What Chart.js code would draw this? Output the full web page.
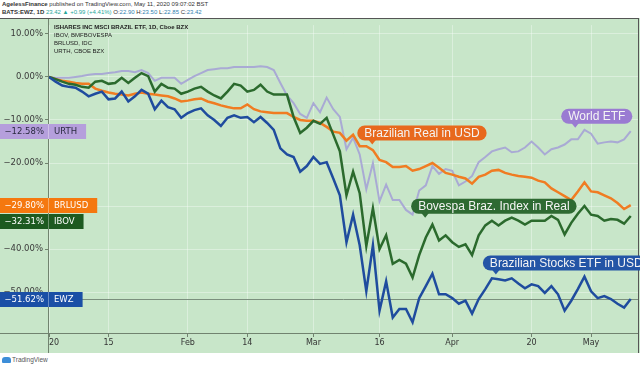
<!DOCTYPE html>
<html>
<head>
<meta charset="utf-8">
<script src="https://cdn.jsdelivr.net/npm/chart.js@4.4.1/dist/chart.umd.min.js"></script>
<style>
    body { margin: 0; background: #fff; }
    #wrap { position: relative; width: 640px; height: 367px; overflow: hidden; background: #fff; font-family: 'Liberation Sans', Arial, sans-serif; }
    #head1 { position: absolute; left: 2px; top: 1px; font-size: 6px; color: #333; white-space: nowrap; }
    #head2 { position: absolute; left: 2px; top: 9px; font-size: 6px; color: #333; white-space: nowrap; }
    #head2 .up { color: #26a69a; }
    #head2 .v { color: #2f7fb0; }
    #box { position: absolute; left: 0; top: 18px; width: 640px; height: 335px; }
    #legend { position: absolute; left: 54px; top: 23px; font-size: 6px; line-height: 8px; color: #222; white-space: nowrap; }
    #legend b { font-weight: bold; }
    #foot { position: absolute; left: 2px; top: 356px; font-size: 6.5px; color: #555; white-space: nowrap; }
    #foot span.logo { display: inline-block; width: 9px; height: 6px; background: #3d8ed8; border-radius: 3px 3px 1px 1px; vertical-align: -1px; margin-right: 1px; }
</style>
</head>
<body>
<div id="wrap">
    <div id="head1"><b>AgelessFinance</b> published on TradingView.com, May 11, 2020 09:07:02 BST</div>
    <div id="head2"><b>BATS:EWZ, 1D</b> <span class="up">23.42 ▲ +0.99 (+4.41%)</span> O:<span class="v">22.90</span> H:<span class="v">23.50</span> L:<span class="v">22.85</span> C:<span class="v">23.42</span></div>
    <div id="box"><canvas id="chart"></canvas></div>
    <div id="legend">
        <b>ISHARES INC MSCI BRAZIL ETF, 1D, Cboe BZX</b><br>
        IBOV, BMFBOVESPA<br>
        BRLUSD, IDC<br>
        URTH, CBOE BZX
    </div>
    <div id="foot"><span class="logo"></span>TradingView</div>
</div>
<script>
// daily % change since 2 Jan 2020 (trading days up to 8 May)
const ewz = [
    0, -1.1, -2.0, -2.3, -2.5, -3.4, -4.5, -3.9, -3.4, -5.2,
    -5.0, -3.4, -5.7, -4.5, -3.0, -3.9, -7.5, -5.5, -7.0, -7.5,
    -9.5, -8.4, -7.7, -7.3, -8.9, -10.0, -11.4, -9.5, -8.9, -9.5,
    -9.3, -10.5, -9.3, -10.7, -12.3, -16.6, -18.0, -18.6, -22.0, -20.7,
    -18.6, -20.2, -19.8, -23.6, -27.5, -38.4, -32.0, -39.1, -49.8, -39.1,
    -54.3, -47.5, -55.9, -53.9, -53.9, -57.0, -51.4, -48.6, -45.7, -50.5,
    -50.5, -51.4, -52.7, -52.0, -55.0, -51.6, -49.3, -46.8, -47.0, -47.3,
    -46.8, -48.0, -49.1, -48.2, -48.6, -50.2, -48.6, -50.5, -54.3, -52.0,
    -49.3, -46.4, -49.8, -51.4, -50.9, -51.6, -52.7, -53.6, -51.62
];
const ibov = [
    0, -0.5, -1.1, -1.6, -1.8, -2.3, -2.5, -1.1, -0.9, -1.6,
    -1.4, -0.2, -1.4, -0.2, 0.9, 0.2, -3.4, -1.6, -2.5, -2.7,
    -3.9, -3.4, -2.7, -2.3, -3.4, -4.3, -5.0, -3.4, -1.6, -2.0,
    -3.4, -3.0, -1.8, -3.4, -4.1, -4.1, -4.1, -9.3, -13.0, -11.8,
    -10.2, -10.9, -9.5, -13.4, -17.3, -27.5, -22.0, -27.0, -39.3, -30.5,
    -40.0, -36.8, -43.4, -42.5, -43.4, -46.6, -41.4, -37.3, -34.3, -38.0,
    -36.8, -38.4, -39.5, -38.9, -41.4, -36.8, -34.5, -33.4, -34.5, -33.4,
    -32.7, -33.4, -34.3, -33.4, -33.4, -33.4, -32.3, -33.2, -36.6, -33.9,
    -31.8, -30.0, -32.0, -32.3, -33.4, -33.0, -33.2, -34.1, -32.31
];
const brlusd = [
    0, -0.5, -0.9, -1.1, -1.4, -1.6, -1.6, -2.7, -3.2, -3.6,
    -3.9, -4.1, -4.3, -3.9, -3.6, -3.9, -4.1, -4.3, -4.5, -5.0,
    -5.7, -5.5, -5.2, -5.0, -5.7, -6.1, -6.6, -7.0, -7.3, -7.3,
    -6.4, -7.5, -8.0, -8.2, -8.4, -8.4, -8.4, -9.3, -10.0, -10.2,
    -10.2, -10.7, -11.6, -12.7, -13.0, -14.8, -13.4, -16.1, -16.1, -17.0,
    -19.3, -19.8, -20.9, -20.9, -20.7, -21.8, -21.4, -20.7, -20.0, -21.1,
    -22.3, -22.7, -23.2, -23.6, -24.8, -23.2, -22.7, -21.8, -21.6, -22.3,
    -22.7, -23.0, -23.2, -23.4, -24.1, -24.5, -25.9, -26.8, -27.7, -28.6,
    -26.6, -24.5, -26.6, -26.8, -27.5, -28.2, -29.3, -30.7, -29.80
];
const urth = [
    0, -0.2, -0.2, -0.2, 0, 0.2, 0.5, 0.7, 0.7, 0.9,
    1.1, 1.4, 1.4, 1.1, 1.6, 0.9, -0.9, -0.2, -0.2, -0.2,
    -1.6, -0.7, 0.2, 0.9, 1.6, 1.8, 2.0, 2.0, 2.3, 2.3,
    2.3, 2.3, 2.5, 2.3, 1.6, -1.4, -4.3, -6.1, -8.6, -9.5,
    -6.1, -8.2, -4.8, -7.5, -9.3, -16.8, -14.1, -18.0, -26.1, -20.0,
    -28.9, -25.0, -28.6, -28.6, -30.9, -32.0, -26.4, -25.2, -20.7, -22.5,
    -21.4, -21.8, -25.2, -24.3, -23.0, -19.8, -18.6, -17.3, -16.8, -16.4,
    -17.5, -17.3, -16.4, -15.0, -16.4, -18.0, -16.8, -16.4, -15.7, -14.5,
    -14.5, -12.3, -13.2, -15.5, -15.2, -15.0, -15.2, -14.5, -12.58
];

// time axis labels (bar index -> text)
const tickPos = [0, 9, 21, 30, 40, 50, 61, 73, 82];
const tickText = ['2020', '15', 'Feb', '14', 'Mar', '16', 'Apr', '20', 'May'];

const series = [
    { name: 'EWZ', data: ewz, color: '#1f4c9e', width: 2.5, tag: '#1a4fa6', tagText: '#fff' },
    { name: 'IBOV', data: ibov, color: '#2b6a2d', width: 2.5, tag: '#1d5a20', tagText: '#fff' },
    { name: 'BRLUSD', data: brlusd, color: '#f07c22', width: 2.5, tag: '#f5780f', tagText: '#fff' },
    { name: 'URTH', data: urth, color: '#a9aad4', width: 2, tag: '#b59fdc', tagText: '#2a2a40' }
];

// callouts: pointer tip at (bar index, % value)
const callouts = [
    { text: 'World ETF', i: 79.6, v: -11.8, bg: '#9a7bd2', left: 14 },
    { text: 'Brazilian Real in USD', i: 48.9, v: -15.7, bg: '#e8691d', left: 15 },
    { text: 'Bovespa Braz. Index in Real', i: 56.9, v: -32.7, bg: '#2e6a32', left: 14 },
    { text: 'Brazilian Stocks ETF in USD', i: 67.6, v: -45.9, bg: '#2355a6', left: 13 }
];

const BG = '#c8e6c9';
const AXIS = '#71836f';

const overlay = {
    id: 'overlay',
    beforeDraw(chart) {
        const ctx = chart.ctx;
        ctx.save();
        ctx.fillStyle = BG;
        ctx.fillRect(0, 0, chart.width, chart.height);
        ctx.restore();
    },
    beforeDatasetsDraw(chart) {
        // price line of the main series
        const { ctx, chartArea: a, scales: { y } } = chart;
        const py = Math.round(y.getPixelForValue(ewz[ewz.length - 1])) + 0.5;
        ctx.save();
        ctx.strokeStyle = '#7b8f7d';
        ctx.lineWidth = 1;
        ctx.beginPath();
        ctx.moveTo(a.left, py);
        ctx.lineTo(a.right, py);
        ctx.stroke();
        ctx.restore();
    },
    afterDraw(chart) {
        const { ctx, chartArea: a, scales: { x, y } } = chart;
        ctx.save();

        // price scale hides the left half of the first date label
        ctx.fillStyle = BG;
        ctx.fillRect(0, a.bottom + 1, a.left - 1, chart.height - a.bottom);

        // axis borders
        ctx.strokeStyle = AXIS;
        ctx.lineWidth = 1;
        ctx.beginPath();
        ctx.moveTo(a.left - 0.5, 0);
        ctx.lineTo(a.left - 0.5, chart.height);
        ctx.moveTo(0, a.bottom + 0.5);
        ctx.lineTo(a.right, a.bottom + 0.5);
        ctx.stroke();
        ctx.strokeStyle = '#555';
        ctx.beginPath();
        ctx.moveTo(a.right + 0.5, 0);
        ctx.lineTo(a.right + 0.5, chart.height);
        ctx.moveTo(0, 0.5);
        ctx.lineTo(a.right, 0.5);
        ctx.stroke();

        // callout bubbles
        ctx.font = '12px "Liberation Sans", Arial, sans-serif';
        ctx.textBaseline = 'middle';
        ctx.textAlign = 'left';
        callouts.forEach(c => {
            const tx = x.getPixelForValue(c.i);
            const ty = y.getPixelForValue(c.v);
            const w = ctx.measureText(c.text).width + 14;
            const h = 15;
            const bx = tx - c.left;
            const by = ty - 4 - h;
            ctx.fillStyle = c.bg;
            ctx.beginPath();
            ctx.roundRect(bx, by, w, h, 7.5);
            ctx.fill();
            ctx.beginPath();
            ctx.moveTo(tx - 4, by + h - 1);
            ctx.lineTo(tx + 4, by + h - 1);
            ctx.lineTo(tx, ty);
            ctx.closePath();
            ctx.fill();
            ctx.fillStyle = '#f4f4f4';
            ctx.fillText(c.text, bx + 7, by + h / 2 + 0.5);
        });

        // last value tags on the price scale
        ctx.font = '8.5px "DejaVu Sans", sans-serif';
        const tags = series.map(s => {
            const last = s.data[s.data.length - 1];
            return { s, last, cy: y.getPixelForValue(last) };
        }).sort((p, q) => p.cy - q.cy);
        let prevBottom = -100;
        tags.forEach(t => {
            const h = 15;
            let top = Math.round(t.cy - h / 2);
            if (top < prevBottom + 1) top = prevBottom + 1;
            prevBottom = top + h;
            const w = a.left + 9 + ctx.measureText(t.s.name).width + 5;
            ctx.fillStyle = t.s.tag;
            ctx.fillRect(0, top, w, h);
            ctx.fillStyle = 'rgba(255,255,255,0.35)';
            ctx.fillRect(a.left - 1, top, 1, h);
            ctx.fillStyle = t.s.tagText;
            ctx.textAlign = 'right';
            ctx.fillText(t.last.toFixed(2).replace('-', '\u2212') + '%', a.left - 5, top + h / 2 + 0.5);
            ctx.textAlign = 'left';
            ctx.fillText(t.s.name, a.left + 5, top + h / 2 + 0.5);
        });

        ctx.restore();
    }
};

new Chart(document.getElementById('chart'), {
    type: 'line',
    data: {
        datasets: series.map(s => ({
            label: s.name,
            data: s.data.map((v, i) => ({ x: i, y: v })),
            borderColor: s.color,
            borderWidth: s.width,
            pointRadius: 0,
            tension: 0,
            fill: false
        }))
    },
    options: {
        responsive: true,
        maintainAspectRatio: false,
        animation: false,
        layout: { padding: { top: 1, right: 2, left: 0, bottom: 0 } },
        plugins: { legend: { display: false }, tooltip: { enabled: false } },
        scales: {
            x: {
                type: 'linear',
                min: 0,
                max: 89.1,
                afterBuildTicks: scale => { scale.ticks = tickPos.map(v => ({ value: v })); },
                afterFit: scale => { scale.height = 20; },
                ticks: {
                    autoSkip: false,
                    maxRotation: 0,
                    padding: 1,
                    color: '#333',
                    font: { family: 'DejaVu Sans', size: 8 },
                    callback: v => tickText[tickPos.indexOf(v)]
                },
                grid: { color: 'rgba(255,255,255,0.35)', tickColor: AXIS, tickLength: 4 },
                border: { display: false }
            },
            y: {
                min: -59.5,
                max: 12.05,
                afterFit: scale => { scale.width = 49; },
                ticks: {
                    stepSize: 10,
                    includeBounds: false,
                    padding: 2,
                    color: '#3a3a3a',
                    font: { family: 'DejaVu Sans', size: 8.5 },
                    callback: v => v.toFixed(2).replace('-', '\u2212') + '%'
                },
                grid: { color: 'rgba(255,255,255,0.35)', tickColor: AXIS, tickLength: 4 },
                border: { display: false }
            }
        }
    },
    plugins: [overlay]
});
</script>
</body>
</html>
